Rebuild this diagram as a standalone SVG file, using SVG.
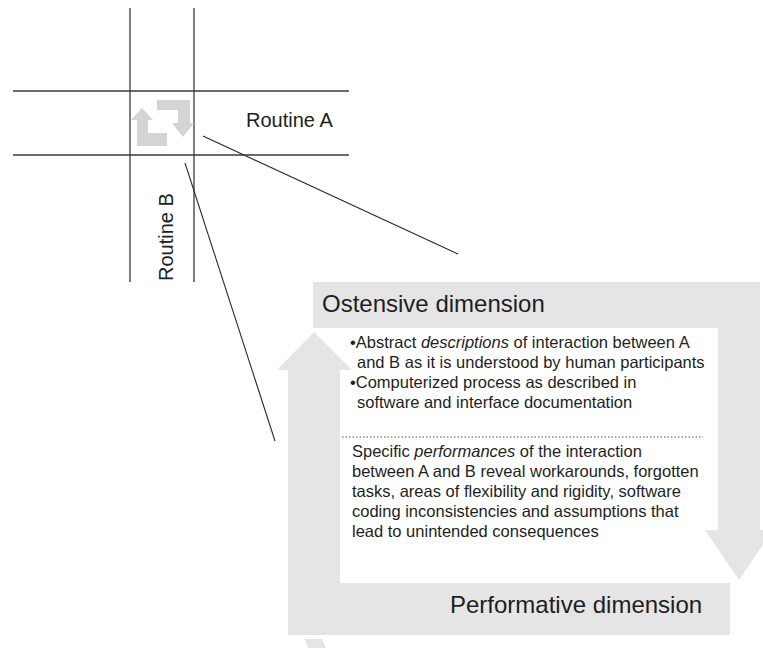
<svg xmlns="http://www.w3.org/2000/svg" width="763" height="648" viewBox="0 0 763 648">
<style>
.grid{stroke:#3a3a3a;stroke-width:1.3;fill:none}
.conn{stroke:#2a2a2a;stroke-width:1.1;fill:none}
.band{fill:#e5e5e5}
.icon{fill:#d4d4d4}
.lbl{font-family:"Liberation Sans",Arial,sans-serif;fill:#222}
.body{font-family:"Liberation Sans",Arial,sans-serif;font-size:16.5px;fill:#1e1e1e}
.head{font-family:"Liberation Sans",Arial,sans-serif;font-size:24px;fill:#1e1e1e}
</style>
<rect width="763" height="648" fill="#ffffff"/>
<g id="grid">
<line class="grid" x1="130" y1="8" x2="130" y2="282"/>
<line class="grid" x1="194" y1="8" x2="194" y2="282"/>
<line class="grid" x1="13" y1="91" x2="349" y2="91"/>
<line class="grid" x1="13" y1="155" x2="349" y2="155"/>
</g>
<g id="icon">
<polygon class="icon" points="142,108 153,120 148,120 148,133 167,133 167,146 137,146 137,120 131,120"/>
<polygon class="icon" points="157,100 190,100 190,123 194,123 183,137 172,123 178,123 178,110 157,110"/>
</g>
<g id="routine-a"><text class="lbl" x="246" y="127" font-size="20">Routine A</text></g>
<g id="routine-b"><text class="lbl" font-size="20" transform="translate(173,281) rotate(-90)">Routine B</text></g>
<g id="connectors">
<line class="conn" x1="203" y1="136" x2="458" y2="254"/>
<line class="conn" x1="185" y1="163" x2="275" y2="441"/>
</g>
<g id="cycle-frame">
<rect class="band" x="313" y="282" width="447" height="46"/>
<rect class="band" x="718" y="282" width="42" height="250"/>
<polygon class="band" points="705,530 773,530 739,580"/>
<rect class="band" x="288" y="583" width="442" height="52"/>
<rect class="band" x="288" y="369" width="52" height="216"/>
<polygon class="band" points="314,332 352,370 277,370"/>
<polygon class="band" points="305,639 322,639 326,648 308,648"/>
</g>
<g id="ostensive">
<text class="head" x="322" y="312">Ostensive dimension</text>
<text class="body" x="350" y="348">•Abstract <tspan font-style="italic">descriptions</tspan> of interaction between A</text>
<text class="body" x="357" y="368">and B as it is understood by human participants</text>
<text class="body" x="350" y="388">•Computerized process as described in</text>
<text class="body" x="357" y="408">software and interface documentation</text>
</g>
<line x1="342" y1="437" x2="703" y2="437" stroke="#555" stroke-width="1.2" stroke-dasharray="1.5 2"/>
<g id="performative">
<text class="body" x="352" y="457">Specific <tspan font-style="italic">performances</tspan> of the interaction</text>
<text class="body" x="352" y="477">between A and B reveal workarounds, forgotten</text>
<text class="body" x="352" y="497">tasks, areas of flexibility and rigidity, software</text>
<text class="body" x="352" y="517">coding inconsistencies and assumptions that</text>
<text class="body" x="352" y="537">lead to unintended consequences</text>
<text class="head" x="450" y="613">Performative dimension</text>
</g>
</svg>
